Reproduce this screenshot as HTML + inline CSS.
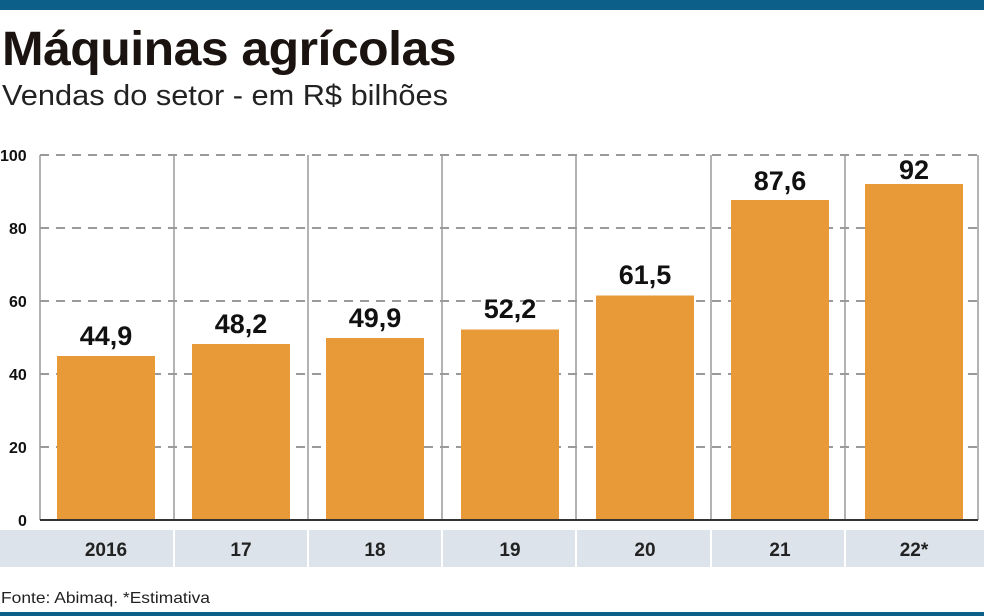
<!DOCTYPE html>
<html><head><meta charset="utf-8"><style>
body{margin:0;width:984px;height:616px;background:#fff;overflow:hidden;position:relative;font-family:"Liberation Sans",sans-serif}
.a{position:absolute}
</style></head><body>
<div class="a" style="left:0;top:0;width:984px;height:10px;background:#0b5f88"></div>
<div class="a" style="left:0;top:612px;width:984px;height:4px;background:#0b5f88"></div>
<div class="a" style="left:2px;top:22px;font-size:48px;font-weight:bold;color:#1a1310;transform:scaleX(1.04);transform-origin:0 0;white-space:nowrap;letter-spacing:-0.5px">Máquinas agrícolas</div>
<div class="a" style="left:2px;top:80px;font-size:29px;color:#222;transform:scaleX(1.06);transform-origin:0 0;white-space:nowrap">Vendas do setor - em R$ bilhões</div>
<svg class="a" style="left:0;top:0" width="984" height="616">
<g stroke="#9a9a9a" stroke-width="2" stroke-dasharray="9,7">
<line x1="40" y1="155" x2="978" y2="155"/><line x1="40" y1="228" x2="978" y2="228"/><line x1="40" y1="301" x2="978" y2="301"/><line x1="40" y1="374" x2="978" y2="374"/><line x1="40" y1="447" x2="978" y2="447"/>
</g>
<g stroke="#9a9a9a" stroke-width="1.5">
<line x1="40" y1="155" x2="40" y2="520"/><line x1="174" y1="155" x2="174" y2="520"/><line x1="308" y1="155" x2="308" y2="520"/><line x1="442" y1="155" x2="442" y2="520"/><line x1="576" y1="155" x2="576" y2="520"/><line x1="711" y1="155" x2="711" y2="520"/><line x1="845" y1="155" x2="845" y2="520"/><line x1="978" y1="155" x2="978" y2="520"/>
</g>
<g fill="#e89a38">
<rect x="57" y="356" width="98" height="164"/>
<rect x="192" y="344" width="98" height="176"/>
<rect x="326" y="338" width="98" height="182"/>
<rect x="461" y="329.5" width="98" height="190.5"/>
<rect x="596" y="295.5" width="98" height="224.5"/>
<rect x="731" y="200" width="98" height="320"/>
<rect x="865" y="184" width="98" height="336"/>
</g>
<line x1="40" y1="520" x2="978" y2="520" stroke="#333" stroke-width="2"/>
<g font-family="Liberation Sans" font-weight="bold" font-size="16" fill="#111">
<text x="0" y="161">100</text><text x="9" y="234">80</text><text x="9" y="307">60</text><text x="9" y="380">40</text><text x="9" y="453">20</text><text x="18" y="526">0</text>
</g>
<g font-family="Liberation Sans" font-weight="bold" font-size="27" fill="#111" text-anchor="middle">
<text x="106" y="345">44,9</text><text x="241" y="333">48,2</text><text x="375" y="327">49,9</text><text x="510" y="318">52,2</text><text x="645" y="284">61,5</text><text x="780" y="190">87,6</text><text x="914" y="179">92</text>
</g>
<g fill="#dde3ea">
<rect x="0" y="530" width="173" height="37"/><rect x="175" y="530" width="132" height="37"/><rect x="309" y="530" width="132" height="37"/><rect x="443" y="530" width="132" height="37"/><rect x="577" y="530" width="133" height="37"/><rect x="712" y="530" width="132" height="37"/><rect x="846" y="530" width="138" height="37"/>
</g>
<g font-family="Liberation Sans" font-weight="bold" font-size="19" fill="#222" text-anchor="middle">
<text x="106" y="556">2016</text><text x="241" y="556">17</text><text x="375" y="556">18</text><text x="510" y="556">19</text><text x="645" y="556">20</text><text x="780" y="556">21</text><text x="914" y="556">22*</text>
</g>
<text x="1" y="603" font-family="Liberation Sans" font-size="16" fill="#222" textLength="209" lengthAdjust="spacingAndGlyphs">Fonte: Abimaq. *Estimativa</text>
</svg>
</body></html>
